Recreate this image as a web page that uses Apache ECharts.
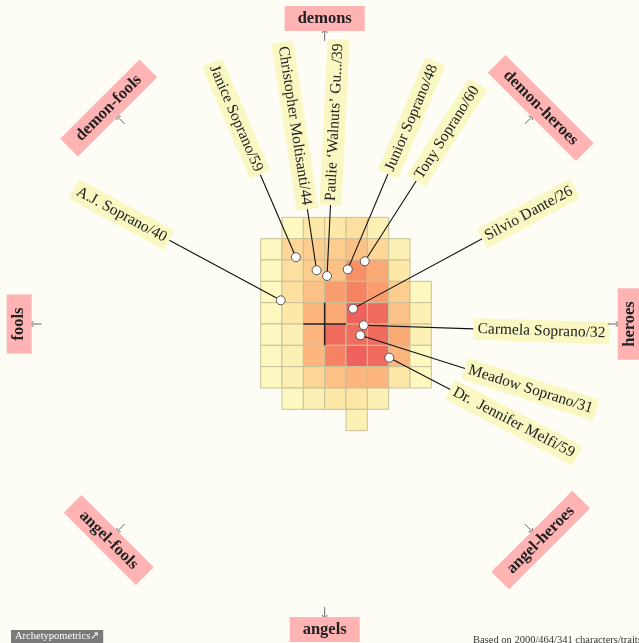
<!DOCTYPE html>
<html>
<head>
<meta charset="utf-8">
<script src="https://cdn.jsdelivr.net/npm/echarts@6.0.0/dist/echarts.min.js"></script>
<style>
  html, body { margin: 0; padding: 0; background: #fefdf5; }
  #chart { width: 639px; height: 643px; }
</style>
</head>
<body>
<div id="chart"></div>
<script>
// grid bins (in cell units, centre of chart = 0,0)
const binX = [-3, -2, -1, 0, 1, 2, 3, 4]          // left edge of each column
const binY = [4, 3, 2, 1, 0, -1, -2, -3, -4, -5]  // bottom edge of each row, top row first
const density = [
  [null, 1, 2, 2, 2.5, 1.5, null, null],
  [1, 3, 3.5, 3.5, 4, 3, 1.5, null],
  [1, 2.5, 3.5, 4, 6, 5, 2, null],
  [1, 2.5, 4, 5.5, 6.5, 5.5, 3.5, 1],
  [1, 2, 4.5, 5, 8, 7.5, 4, 1.5],
  [1, 1.5, 4.5, 7.5, 7.5, 7.5, 5, 1.5],
  [1, 1.5, 4.5, 6.5, 8, 7.5, 4.5, 1],
  [1, 1.5, 3, 4, 4.5, 4.5, 2, 1],
  [null, 1, 1.5, 2, 2, 1.5, null, null],
  [null, null, null, null, 1.5, null, null, null]
]

// characters
const names = ['Janice Soprano', 'Christopher Moltisanti', 'Paulie ‘Walnuts’ Gu...', 'Junior Soprano',
  'Tony Soprano', 'A.J. Soprano', 'Silvio Dante', 'Carmela Soprano', 'Meadow Soprano', 'Dr.  Jennifer Melfi']
const scores = [59, 44, 39, 48, 60, 40, 26, 32, 31, 59]
const posX = [-1.35, -0.38, 0.11, 1.08, 1.88, -2.06, 1.33, 1.83, 1.67, 3.03]
const posY = [3.13, 2.52, 2.25, 2.56, 2.94, 1.11, 0.72, -0.06, -0.53, -1.58]

// compass directions (degrees, counter-clockwise from heroes)
const compassNames = ['heroes', 'demon-heroes', 'demons', 'demon-fools', 'fools', 'angel-fools', 'angels', 'angel-heroes']
const compassAngles = [0, 45, 90, 135, 180, -135, -90, -45]

const labelRadius = 13.35
const arrowFrom = 13.27, arrowTo = 13.83, compassRadius = 14.32
const crossHalf = 1

const LABEL_FONT = '15.5px "Liberation Serif", serif'
const LABEL_PAD = [3, 4]
const measureCtx = document.createElement('canvas').getContext('2d')
const textWidth = (t, font) => { measureCtx.font = font; return measureCtx.measureText(t).width }

const cells = []
density.forEach((row, r) => row.forEach((v, c) => { if (v != null) cells.push([binX[c], binY[r], v]) }))
const people = names.map((n, i) => [posX[i], posY[i], i])
const compass = compassAngles.map((a, i) => [a, i])

const chart = echarts.init(document.getElementById('chart'))

// one cell = 21.333px; grid must stay inside the canvas
chart.setOption({
  backgroundColor: '#fefdf5',
  animation: false,
  grid: { left: 4.7, top: 4, width: 29.7 * 21.333, height: 29.9 * 21.333 },
  xAxis: { type: 'value', min: -15, max: 14.7, show: false },
  yAxis: { type: 'value', min: -14.9, max: 15, show: false },
  visualMap: {
    show: false, seriesIndex: 0, dimension: 2, min: 1, max: 8,
    inRange: { color: ['#fcf8c0', '#fde8a8', '#fdd698', '#fcc186', '#faa874', '#f78f67', '#f2765f', '#ee615d'] }
  },
  series: [
    {
      type: 'custom',
      data: cells,
      renderItem: (params, api) => {
        const p0 = api.coord([api.value(0), api.value(1) + 1])
        const p1 = api.coord([api.value(0) + 1, api.value(1)])
        return {
          type: 'rect',
          shape: { x: p0[0], y: p0[1], width: p1[0] - p0[0], height: p1[1] - p0[1] },
          style: { fill: api.visual('color'), stroke: '#c9c199', lineWidth: 1 }
        }
      }
    },
    {
      // centre cross
      type: 'custom',
      data: [[0, 0]],
      z: 3,
      renderItem: (params, api) => {
        const l = api.coord([-crossHalf, 0]), r = api.coord([crossHalf, 0])
        const t = api.coord([0, crossHalf]), b = api.coord([0, -crossHalf])
        return {
          type: 'group',
          children: [
            { type: 'line', shape: { x1: l[0], y1: l[1], x2: r[0], y2: r[1] }, style: { stroke: '#222', lineWidth: 1.6 } },
            { type: 'line', shape: { x1: t[0], y1: t[1], x2: b[0], y2: b[1] }, style: { stroke: '#222', lineWidth: 1.6 } }
          ]
        }
      }
    },
    {
      // characters: leader line, label box, dot
      type: 'custom',
      data: people,
      z: 4,
      renderItem: (params, api) => {
        const x = api.value(0), y = api.value(1), i = api.value(2)
        const unit = api.size([1, 1])[0]
        const th = Math.atan2(y, x)
        const text = names[i] + '/' + scores[i]
        const boxLen = textWidth(text, LABEL_FONT) + LABEL_PAD[1] * 2
        const rIn = labelRadius - boxLen / unit
        const pt = api.coord([x, y])
        const outer = api.coord([labelRadius * Math.cos(th), labelRadius * Math.sin(th)])
        const inner = api.coord([rIn * Math.cos(th), rIn * Math.sin(th)])
        const right = x >= 0
        return {
          type: 'group',
          children: [
            { type: 'line', shape: { x1: pt[0], y1: pt[1], x2: inner[0], y2: inner[1] }, style: { stroke: '#111', lineWidth: 1.1 } },
            {
              type: 'text', x: outer[0], y: outer[1], rotation: right ? th : th - Math.PI,
              style: {
                text, font: LABEL_FONT, fill: '#222', backgroundColor: '#f9f7c2', padding: LABEL_PAD,
                align: right ? 'right' : 'left', verticalAlign: 'middle'
              }
            },
            { type: 'circle', shape: { cx: pt[0], cy: pt[1], r: 4.5 }, style: { fill: '#fff', stroke: '#555', lineWidth: 1 } }
          ]
        }
      }
    },
    {
      // compass directions
      type: 'custom',
      data: compass,
      z: 5,
      renderItem: (params, api) => {
        const a = api.value(0) * Math.PI / 180, i = api.value(1)
        const c = Math.cos(a), s = Math.sin(a)
        const p1 = api.coord([arrowFrom * c, arrowFrom * s])
        const p2 = api.coord([arrowTo * c, arrowTo * s])
        const pl = api.coord([compassRadius * c, compassRadius * s])
        const dx = c, dy = -s  // screen direction
        const h1 = [p2[0] - 4 * dx - 2.5 * dy, p2[1] - 4 * dy + 2.5 * dx]
        const h2 = [p2[0] - 4 * dx + 2.5 * dy, p2[1] - 4 * dy - 2.5 * dx]
        let rot = api.value(0) - 90
        while (rot <= -90) rot += 180
        while (rot > 90) rot -= 180
        return {
          type: 'group',
          children: [
            { type: 'line', shape: { x1: p1[0], y1: p1[1], x2: p2[0], y2: p2[1] }, style: { stroke: '#666', lineWidth: 1 } },
            { type: 'polyline', shape: { points: [h1, p2, h2] }, style: { stroke: '#666', fill: null, lineWidth: 1 } },
            {
              type: 'text', x: pl[0], y: pl[1], rotation: rot * Math.PI / 180,
              style: {
                text: compassNames[i], font: 'bold 16.5px "Liberation Serif", serif', fill: '#222',
                backgroundColor: '#ffb3b3', padding: [4, 13], align: 'center', verticalAlign: 'middle'
              }
            }
          ]
        }
      }
    }
  ],
  graphic: [
    {
      type: 'text', left: 11, top: 630,
      style: {
        text: 'Archetypometrics↗', font: '10.5px "Liberation Serif", serif', fill: '#fff',
        backgroundColor: '#7a7a7a', padding: [1, 4]
      }
    },
    {
      type: 'text', left: 473, top: 635,
      style: { text: 'Based on 2000/464/341 characters/traits', font: '10.5px "Liberation Serif", serif', fill: '#333' }
    }
  ]
})
</script>
</body>
</html>
